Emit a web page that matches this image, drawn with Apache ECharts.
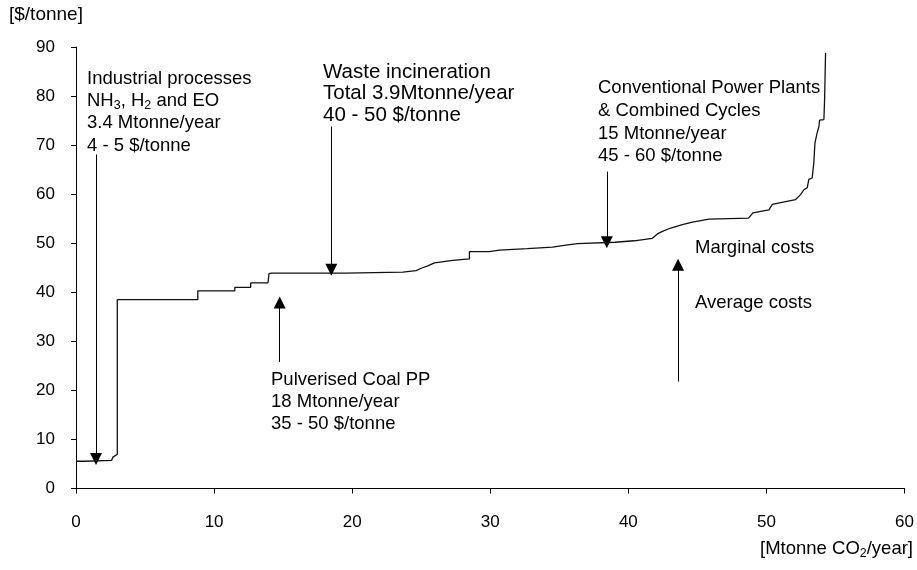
<!DOCTYPE html>
<html>
<head>
<meta charset="utf-8">
<script src="https://cdn.jsdelivr.net/npm/echarts@6/dist/echarts.min.js"></script>
<style>
  html, body { margin: 0; padding: 0; background: #fff; }
  #chart { width: 917px; height: 570px; }
</style>
</head>
<body>
<div id="chart"></div>
<script>
// Cumulative CO2 abatement potential [Mtonne CO2/year] and cost [$/tonne]
const costX = [0, 0.58, 0.58, 2.58, 2.68, 2.99, 2.99, 8.82, 8.82, 11.5, 11.5, 12.65, 12.65, 13.9, 13.98, 14.15,
  19.52, 19.52, 23.67, 24.63, 25.0, 25.47, 25.96, 27.28, 28.49, 28.49, 29.93, 29.93, 30.66, 30.66, 32.68, 32.68,
  34.51, 34.51, 35.48, 35.48, 36.32, 36.32, 39.02, 39.02, 40.42, 40.42, 41.74, 42.1, 42.47, 43.07, 43.91, 44.64,
  45.84, 48.7, 49.02, 50.18, 50.42, 51.39, 52.11, 52.47, 52.71, 52.95, 53.07, 53.31, 53.43, 53.51, 53.67, 53.8,
  53.85, 54.16, 54.21, 54.28];
const costY = [5.55, 5.55, 5.75, 5.75, 6.4, 7.0, 38.5, 38.5, 40.3, 40.3, 41.0, 41.0, 41.9, 41.9, 43.8, 43.9,
  43.9, 44.1, 44.1, 44.4, 44.9, 45.4, 46.0, 46.5, 46.8, 48.3, 48.3, 48.6, 48.6, 48.9, 48.9, 49.2,
  49.2, 49.6, 49.6, 49.9, 49.9, 50.2, 50.2, 50.5, 50.5, 50.8, 51.0, 51.9, 52.4, 53.1, 53.8, 54.3,
  54.9, 55.1, 56.2, 56.8, 57.9, 58.5, 58.9, 59.9, 60.9, 61.3, 63.0, 63.3, 66.4, 70.4, 72.5, 73.8,
  75.1, 75.2, 79.3, 88.8];

// Pointer arrows: x position, start value, head value
const arrowX    = [1.45, 18.49, 14.75, 38.44, 43.6];
const arrowFrom = [68.1, 73.8, 25.8, 64.6, 21.8];
const arrowTo   = [6.0, 44.6, 37.9, 50.2, 45.6];

const xMin = 0, xMax = 60, xStep = 10;
const yMin = 0, yMax = 90, yStep = 10;

const FONT = '"Liberation Sans", Arial, Helvetica, sans-serif';
const fs = 18.5;

const chart = echarts.init(document.getElementById('chart'), null, { renderer: 'canvas' });

const curve = costX.map((x, i) => [x, costY[i]]);
const arrows = arrowX.map((x, i) => ({ coords: [[x, arrowFrom[i]], [x, arrowTo[i]]] }));

const baseRich = {
  n: { fontSize: fs, fontFamily: FONT, color: '#000', lineHeight: 22.4 },
  s: { fontSize: 12.5, fontFamily: FONT, color: '#000', lineHeight: 22.4, verticalAlign: 'bottom' }
};

function textBlock(left, top, text, size, lh) {
  return {
    type: 'text', left: left, top: top,
    style: { text: text, fill: '#000', font: size + 'px ' + FONT, lineHeight: lh }
  };
}

chart.setOption({
  animation: false,
  backgroundColor: '#fff',
  grid: { left: 76, right: 11.5, top: 47, bottom: 81.5 },
  xAxis: {
    type: 'value', min: xMin, max: xMax, interval: xStep,
    splitLine: { show: false },
    axisLine: { show: true, onZero: false, lineStyle: { color: '#000', width: 1 } },
    axisTick: { show: true, length: 5, lineStyle: { color: '#000' } },
    axisLabel: { color: '#000', fontSize: 17, fontFamily: FONT, margin: 25 }
  },
  yAxis: {
    type: 'value', min: yMin, max: yMax, interval: yStep,
    splitLine: { show: false },
    axisLine: { show: true, onZero: false, lineStyle: { color: '#000', width: 1 } },
    axisTick: { show: true, length: 5, lineStyle: { color: '#000' } },
    axisLabel: { color: '#000', fontSize: 17, fontFamily: FONT, margin: 21 }
  },
  series: [
    {
      type: 'line', data: curve, symbol: 'none', silent: true,
      lineStyle: { color: '#111', width: 1.3 }
    },
    {
      type: 'lines', coordinateSystem: 'cartesian2d', silent: true,
      symbol: ['none', 'triangle'], symbolSize: 12,
      lineStyle: { color: '#000', width: 1, opacity: 1, curveness: 0 },
      itemStyle: { color: '#000' },
      data: arrows
    }
  ],
  graphic: [
    textBlock(9, 4, '[$/tonne]', 19, 22),
    {
      type: 'text', right: 4, top: 539,
      style: {
        text: '{n|[Mtonne CO}{s|2}{n|/year]}',
        rich: baseRich
      }
    },
    {
      type: 'text', left: 87, top: 69,
      style: {
        text: '{n|Industrial processes}\n{n|NH}{s|3}{n|, H}{s|2}{n| and EO}\n{n|3.4 Mtonne/year}\n{n|4 - 5 $/tonne}',
        rich: baseRich
      }
    },
    textBlock(323, 61, 'Waste incineration\nTotal 3.9Mtonne/year\n40 - 50 $/tonne', 20.5, 21.7),
    textBlock(598, 77, 'Conventional Power Plants\n& Combined Cycles\n15 Mtonne/year\n45 - 60 $/tonne', fs, 22.6),
    textBlock(271, 369, 'Pulverised Coal PP\n18 Mtonne/year\n35 - 50 $/tonne', fs, 22),
    textBlock(695, 237, 'Marginal costs', fs, 22),
    textBlock(695, 292, 'Average costs', fs, 22)
  ]
});
</script>
</body>
</html>
